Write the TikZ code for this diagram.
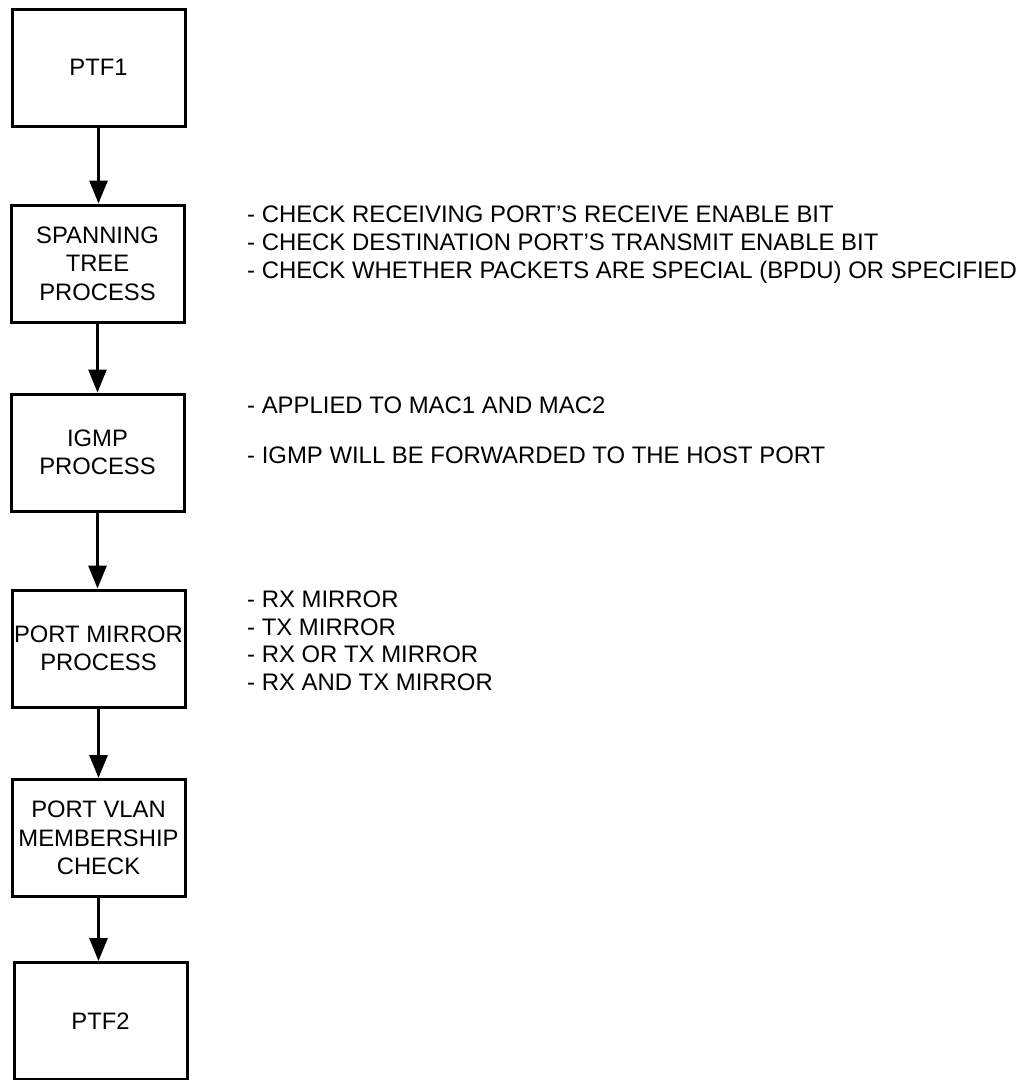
\documentclass[tikz,border=0pt]{standalone}
\usepackage{fontspec}
\setmainfont{Liberation Sans}
\usetikzlibrary{arrows.meta}
\begin{document}
\begin{tikzpicture}[x=1pt,y=-1pt,
  procbox/.style={draw, line width=3pt, minimum width=173pt, minimum height=117pt, align=center, inner sep=0pt,
    font=\fontsize{23.8}{28.5}\selectfont},
  flowarrow/.style={line width=3pt, -{Triangle[length=23pt,width=18pt]}},
  note/.style={anchor=base west, inner sep=0pt, font=\fontsize{23.9}{28.5}\selectfont}]
\useasboundingbox (0,0) rectangle (1019,1080);
\node[procbox] (ptf1) at (98.5,67.5) {PTF1};
\node[procbox] (stp) at (97.5,263.5) {SPANNING\\TREE\\PROCESS};
\node[procbox] (igmp) at (97.5,452.5) {IGMP\\PROCESS};
\node[procbox] (mirror) at (98.5,648.5) {PORT MIRROR\\PROCESS};
\node[procbox] (vlan) at (98.5,838) {PORT VLAN\\MEMBERSHIP\\CHECK};
\node[procbox] (ptf2) at (100.5,1021) {PTF2};
\draw[flowarrow] (ptf1.south) -- (ptf1.south |- stp.north);
\draw[flowarrow] (stp.south) -- (stp.south |- igmp.north);
\draw[flowarrow] (igmp.south) -- (igmp.south |- mirror.north);
\draw[flowarrow] (mirror.south) -- (mirror.south |- vlan.north);
\draw[flowarrow] (vlan.south) -- (vlan.south |- ptf2.north);
\node[note] (s1) at (247,222) {- CHECK RECEIVING PORT’S RECEIVE ENABLE BIT};
\node[note] (s2) at (247,250.5) {- CHECK DESTINATION PORT’S TRANSMIT ENABLE BIT};
\node[note] (s3) at (247,278.5) {- CHECK WHETHER PACKETS ARE SPECIAL (BPDU) OR SPECIFIED};
\node[note] (i1) at (247,413) {- APPLIED TO MAC1 AND MAC2};
\node[note] (i2) at (247,463) {- IGMP WILL BE FORWARDED TO THE HOST PORT};
\node[note] (m1) at (247,607) {- RX MIRROR};
\node[note] (m2) at (247,635) {- TX MIRROR};
\node[note] (m3) at (247,662.5) {- RX OR TX MIRROR};
\node[note] (m4) at (247,690) {- RX AND TX MIRROR};
\end{tikzpicture}
\end{document}
